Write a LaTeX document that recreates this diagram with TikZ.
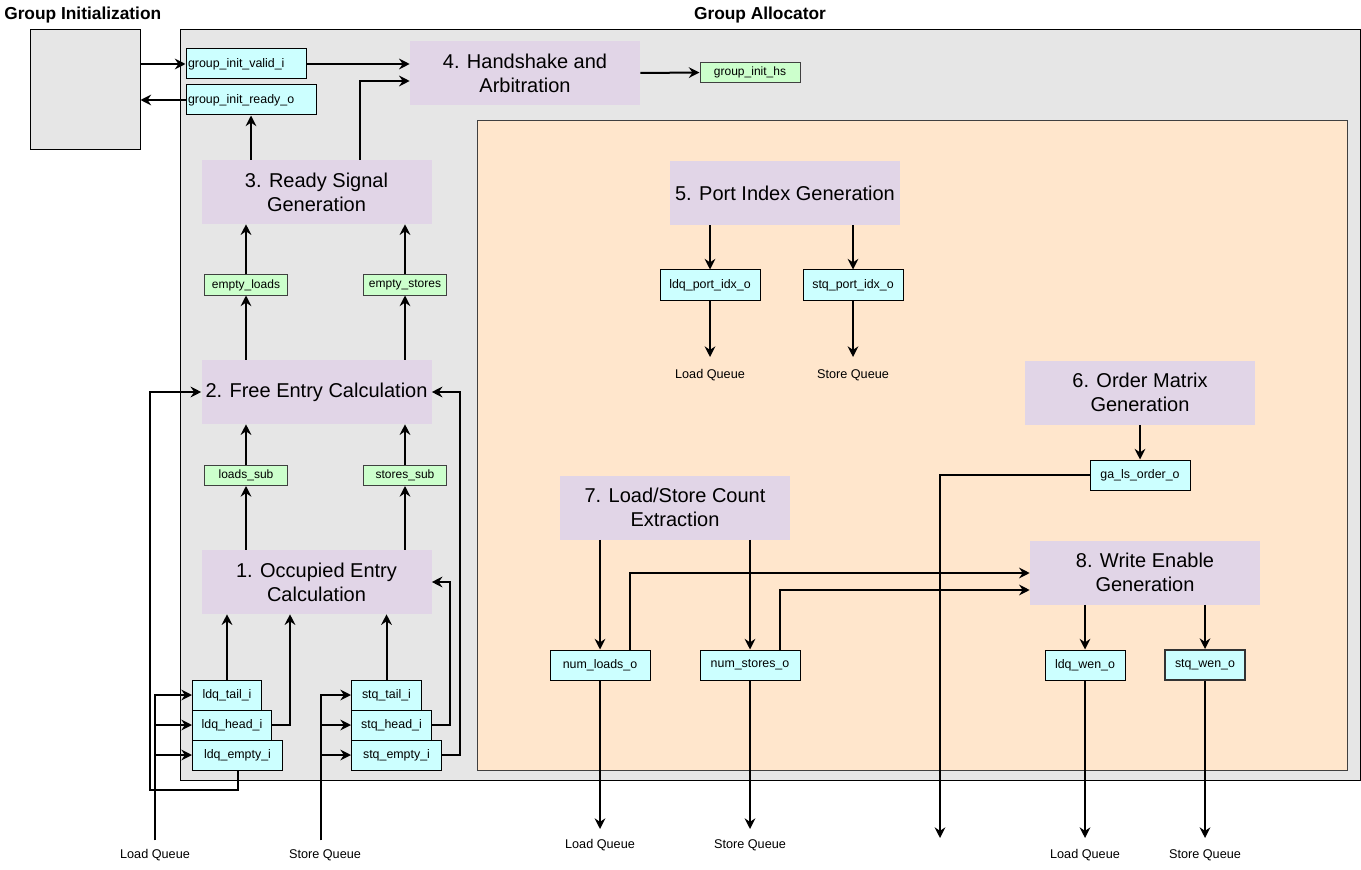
\documentclass[tikz,border=0pt]{standalone}
\usepackage{fontspec}
\setmainfont{Liberation Sans}
\usetikzlibrary{arrows.meta}
\definecolor{panelgray}{HTML}{E6E6E6}
\definecolor{zoneorange}{HTML}{FFE6CC}
\definecolor{stagepurple}{HTML}{E1D5E7}
\definecolor{sigcyan}{HTML}{CCFFFF}
\definecolor{siggreen}{HTML}{CCFFCC}
\begin{document}
\begin{tikzpicture}[x=0.75pt,y=-0.75pt,
  heading/.style={font=\fontsize{13}{15}\selectfont\bfseries, inner sep=0pt},
  panelbox/.style={draw=black, line width=0.75pt, fill=panelgray, inner sep=0pt},
  zonebox/.style={draw=black!75, line width=0.75pt, fill=zoneorange, inner sep=0pt},
  stagebox/.style={fill=stagepurple, minimum width=172.5pt, minimum height=48pt,
    align=center, inner sep=0pt, font=\fontsize{15}{18}\selectfont},
  sigbox/.style={draw=black, line width=0.75pt, fill=sigcyan, minimum height=22.5pt,
    inner sep=0pt, font=\fontsize{9.3}{11}\selectfont},
  midsig/.style={draw=black!75, line width=0.75pt, fill=siggreen, minimum height=15pt,
    inner sep=0pt, font=\fontsize{9}{10}\selectfont},
  qlabel/.style={font=\fontsize{9.5}{11}\selectfont, inner sep=0pt},
  wire/.style={line width=1.5pt, -{Stealth[length=8pt,width=8pt,inset=2.7pt]}}
]
\path[use as bounding box] (0,0) rectangle (1361,870);

% titles
\node[heading, anchor=west] (tgi) at (4,15) {Group Initialization};
\node[heading] (tga) at (760,15) {Group Allocator};

% containers
\node[panelbox, minimum width=82.5pt, minimum height=90pt] (gi) at (85,90) {};
\node[panelbox, minimum width=885pt, minimum height=562.5pt] (ga) at (770,405) {};
\node[zonebox, minimum width=652.5pt, minimum height=487.5pt] (oz) at (912,445.5) {};

% processing stages
\node[stagebox] (b4) at (525,73) {4. Handshake and\\Arbitration};
\node[stagebox] (b3) at (316.5,192) {3. Ready Signal\\Generation};
\node[stagebox] (b2) at (316.5,392) {2. Free Entry Calculation};
\node[stagebox] (b1) at (316.5,582) {1. Occupied Entry\\Calculation};
\node[stagebox] (b5) at (785,193) {5. Port Index Generation};
\node[stagebox] (b6) at (1140,392.5) {6. Order Matrix\\Generation};
\node[stagebox] (b7) at (675,507.5) {7. Load/Store Count\\Extraction};
\node[stagebox] (b8) at (1145,572.5) {8. Write Enable\\Generation};

% handshake signals
\node[sigbox, text width=87pt, align=left, inner xsep=1.5pt] (valid) at (246,64) {group\_init\_valid\_i};
\node[sigbox, text width=94.5pt, align=left, inner xsep=1.5pt] (ready) at (251,100) {group\_init\_ready\_o};
\node[midsig, minimum width=75pt] (hs) at (750,72.5) {group\_init\_hs};

% internal signals
\node[midsig, minimum width=62.25pt] (el) at (246,285) {empty\_loads};
\node[midsig, minimum width=62.25pt] (es) at (405,285) {empty\_stores};
\node[midsig, minimum width=62.25pt] (ls) at (246,475.5) {loads\_sub};
\node[midsig, minimum width=62.25pt] (ss) at (405,475.5) {stores\_sub};

% queue pointer inputs
\node[sigbox, anchor=west, minimum width=51.75pt] (ldqt) at (192,695) {ldq\_tail\_i};
\node[sigbox, anchor=west, minimum width=59.25pt] (ldqh) at (192,725) {ldq\_head\_i};
\node[sigbox, anchor=west, minimum width=67.5pt] (ldqe) at (192,755) {ldq\_empty\_i};
\node[sigbox, anchor=west, minimum width=52.5pt] (stqt) at (351,695) {stq\_tail\_i};
\node[sigbox, anchor=west, minimum width=60pt] (stqh) at (351,725) {stq\_head\_i};
\node[sigbox, anchor=west, minimum width=67.5pt] (stqe) at (351,755) {stq\_empty\_i};

% outputs
\node[sigbox, minimum width=75pt] (lpi) at (710,285) {ldq\_port\_idx\_o};
\node[sigbox, minimum width=75pt] (spi) at (853,285) {stq\_port\_idx\_o};
\node[sigbox, minimum width=75pt] (gao) at (1140,475) {ga\_ls\_order\_o};
\node[sigbox, minimum width=75pt] (nlo) at (600,665) {num\_loads\_o};
\node[sigbox, minimum width=75pt] (nso) at (750,665) {num\_stores\_o};
\node[sigbox, minimum width=60pt] (lwen) at (1085,665) {ldq\_wen\_o};
\node[sigbox, minimum width=60pt, line width=1.5pt, draw=black!80] (swen) at (1205,665) {stq\_wen\_o};

% queue labels
\node[qlabel] (lq1) at (155,855) {Load Queue};
\node[qlabel] (sq1) at (325,855) {Store Queue};
\node[qlabel] (lq2) at (710,375) {Load Queue};
\node[qlabel] (sq2) at (853,375) {Store Queue};
\node[qlabel] (lq3) at (600,845) {Load Queue};
\node[qlabel] (sq3) at (750,845) {Store Queue};
\node[qlabel] (lq4) at (1085,855) {Load Queue};
\node[qlabel] (sq4) at (1205,855) {Store Queue};

% free ends of connectors
\coordinate (ldqloop) at (150,790);
\coordinate (lqin) at (155,840);
\coordinate (sqin) at (321,840);
\coordinate (lpiq) at (710,357);
\coordinate (spiq) at (853,357);
\coordinate (gaoq) at (940,838);
\coordinate (nloq) at (600,829);
\coordinate (nsoq) at (750,829);
\coordinate (lwenq) at (1085,838);
\coordinate (swenq) at (1205,838);

% handshake wiring
\draw[wire] (gi.east |- valid.west) -- (valid.west);
\draw[wire] (ready.west) -- (gi.east |- ready.west);
\draw[wire] (valid.east) -- (b4.west |- valid.east);
\draw[wire] (360,0 |- b3.north) |- (b4.west |- 0,81);
\draw[wire] (b4.east) -- (hs.west);
\draw[wire] (b3.north -| ready.south) -- (ready.south);

% left datapath
\draw[wire] (el.north) -- (el.north |- b3.south);
\draw[wire] (es.north) -- (es.north |- b3.south);
\draw[wire] (el.south |- b2.north) -- (el.south);
\draw[wire] (es.south |- b2.north) -- (es.south);
\draw[wire] (ls.north) -- (ls.north |- b2.south);
\draw[wire] (ss.north) -- (ss.north |- b2.south);
\draw[wire] (ls.south |- b1.north) -- (ls.south);
\draw[wire] (ss.south |- b1.north) -- (ss.south);
\draw[wire] (ldqt.north) -- (ldqt.north |- b1.south);
\draw[wire] (ldqh.east) -| (290,0 |- b1.south);
\draw[wire] (stqt.north) -- (stqt.north |- b1.south);
\draw[wire] (stqh.east) -| (450,0 |- b1.east) -- (b1.east);
\draw[wire] (stqe.east) -| (460,0 |- b2.east) -- (b2.east);
\draw[wire] (ldqe.south) |- (ldqloop) |- (b2.west);

% queue inputs
\draw[wire] (lqin) |- (ldqt.west);
\draw[wire] (lqin) |- (ldqh.west);
\draw[wire] (lqin) |- (ldqe.west);
\draw[wire] (sqin) |- (stqt.west);
\draw[wire] (sqin) |- (stqh.west);
\draw[wire] (sqin) |- (stqe.west);

% right datapath
\draw[wire] (b5.south -| lpi.north) -- (lpi.north);
\draw[wire] (b5.south -| spi.north) -- (spi.north);
\draw[wire] (lpi.south) -- (lpiq);
\draw[wire] (spi.south) -- (spiq);
\draw[wire] (b6.south) -- (gao.north);
\draw[wire] (gao.west) -| (gaoq);
\draw[wire] (b7.south -| nlo.north) -- (nlo.north);
\draw[wire] (b7.south -| nso.north) -- (nso.north);
\draw[wire] (630,0 |- nlo.north) |- (b8.west |- 0,573);
\draw[wire] (780,0 |- nso.north) |- (b8.west |- 0,590);
\draw[wire] (b8.south -| lwen.north) -- (lwen.north);
\draw[wire] (b8.south -| swen.north) -- (swen.north);
\draw[wire] (nlo.south) -- (nloq);
\draw[wire] (nso.south) -- (nsoq);
\draw[wire] (lwen.south) -- (lwenq);
\draw[wire] (swen.south) -- (swenq);
\end{tikzpicture}
\end{document}
